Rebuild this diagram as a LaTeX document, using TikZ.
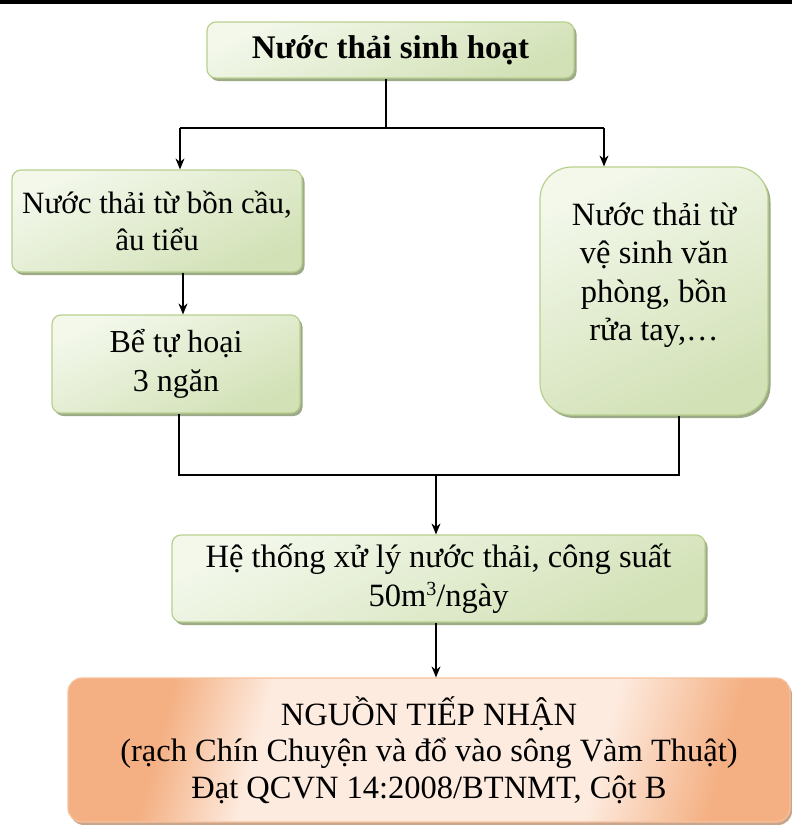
\documentclass[tikz,border=0pt]{standalone}
\usepackage{fontspec}
\setmainfont{Liberation Serif}
\usetikzlibrary{arrows.meta,shadows}

\definecolor{greenlight}{HTML}{F3F8EB}
\definecolor{greendark}{HTML}{D2E1B6}
\definecolor{greenline}{HTML}{B8D08E}
\definecolor{greenshadow}{HTML}{9DAA88}
\definecolor{orangedark}{HTML}{F4B083}
\definecolor{orangelight}{HTML}{FDEBDF}
\definecolor{orangeline}{HTML}{F6C19C}
\definecolor{orangeshadow}{HTML}{C9A58C}

% orange glow with a broad light band in the middle
\pgfdeclarehorizontalshading{orangeglow}{100bp}{%
  color(0bp)=(orangedark); color(28bp)=(orangedark);
  color(36bp)=(orangelight); color(64bp)=(orangelight);
  color(74bp)=(orangedark); color(100bp)=(orangedark)}

\tikzset{
  greenbox/.style={
    draw=greenline, line width=1.2pt, rounded corners=9pt,
    top color=greenlight, bottom color=greendark, shading angle=25,
    drop shadow={shadow xshift=2.5pt, shadow yshift=-3pt, fill=greenshadow, opacity=1},
    align=center, inner sep=0pt,
    font=\fontsize{32.5}{38.5}\selectfont},
  orangebox/.style={
    draw=orangeline, line width=1.2pt, rounded corners=14pt,
    shading=orangeglow, shading angle=-15,
    drop shadow={shadow xshift=2pt, shadow yshift=-3pt, fill=orangeshadow, opacity=1},
    align=center, inner sep=0pt,
    font=\fontsize{32.5}{36.5}\selectfont},
  link/.style={line width=1.3pt, draw=black},
  flow/.style={link, -{Stealth[length=11pt,width=9pt]}}
}

\begin{document}
\begin{tikzpicture}[x=1pt,y=-1pt]
  \useasboundingbox (0,0) rectangle (792,825);

  % rule along the top edge
  \draw[line width=4pt] (0,2) -- (792,2);

  % boxes
  \node[greenbox, minimum width=367pt, minimum height=56pt,
        font=\fontsize{33}{38}\selectfont\bfseries]
    (src) at (390.5,50) {Nước thải sinh hoạt};

  \node[greenbox, minimum width=290pt, minimum height=102pt,
        font=\fontsize{31}{37}\selectfont]
    (wc) at (157,221) {Nước thải từ bồn cầu,\\âu tiểu};

  \node[greenbox, minimum width=248pt, minimum height=98pt, font=\fontsize{32}{39}\selectfont]
    (tank) at (176,364) {Bể tự hoại\\3 ngăn};

  \node[greenbox, rounded corners=32pt, minimum width=228pt, minimum height=248pt]
    (office) at (654,291) {Nước thải từ\\vệ sinh văn\\phòng, bồn\\rửa tay,…\\\mbox{}};

  \node[greenbox, minimum width=533pt, minimum height=87pt]
    (plant) at (438.5,578.5) {Hệ thống xử lý nước thải, công suất\\50m{\fontsize{20}{20}\selectfont\raisebox{11pt}{3}}/ngày};

  \node[orangebox, minimum width=722pt, minimum height=144pt]
    (recv) at (429,750) {NGUỒN TIẾP NHẬN\\(rạch Chín Chuyện và đổ vào sông Vàm Thuật)\\Đạt QCVN 14:2008/BTNMT, Cột B};

  % split below the source
  \coordinate (split) at (386,128);
  \coordinate (splitL) at (180,128);
  \coordinate (splitR) at (604,128);
  \draw[link] (src.south -| split) -- (split);
  \draw[link] (splitL) -- (splitR);
  \draw[flow] (splitL) -- (splitL |- wc.north);
  \draw[flow] (splitR) -- (splitR |- office.north);

  % toilet water into the septic tank
  \coordinate (wcdown) at (183,272);
  \draw[flow] (wc.south -| wcdown) -- (wcdown |- tank.north);

  % merge into the treatment plant
  \coordinate (mergeL) at (179,475);
  \coordinate (mergeR) at (679,475);
  \coordinate (merge) at (436,475);
  \draw[link] (tank.south -| mergeL) -- (mergeL) -- (mergeR) -- (office.south -| mergeR);
  \draw[flow] (merge) -- (merge |- plant.north);

  % discharge
  \draw[flow] (plant.south -| merge) -- (merge |- recv.north);
\end{tikzpicture}
\end{document}
